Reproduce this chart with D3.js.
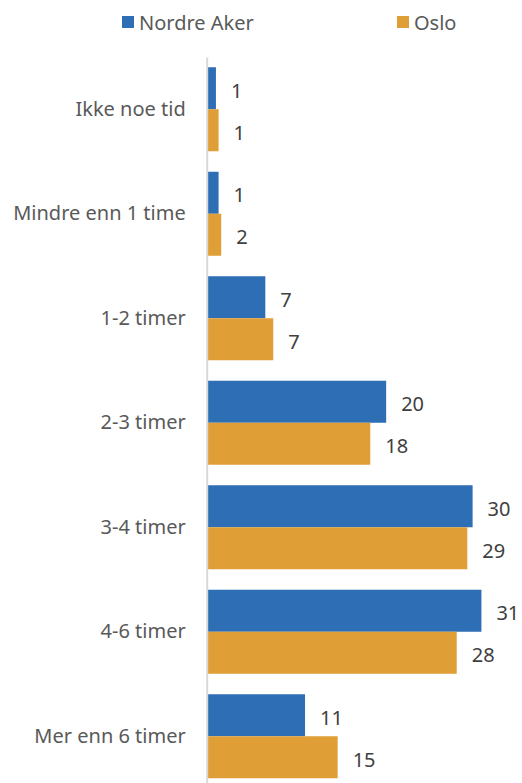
<!DOCTYPE html>
<html>
<head>
<meta charset="utf-8">
<script src="https://cdn.jsdelivr.net/npm/d3@7"></script>
<style>
  body { margin: 0; background: #fff; }
  svg { display: block; font-family: "Noto Sans", sans-serif; }
</style>
</head>
<body>
<main></main>
<script>
var categories = ["Ikke noe tid", "Mindre enn 1 time", "1-2 timer", "2-3 timer", "3-4 timer", "4-6 timer", "Mer enn 6 timer"]
var seriesNames = ["Nordre Aker", "Oslo"]
var nordreAker = [0.9, 1.2, 6.5, 20.2, 30.0, 31.0, 11.0]
var oslo = [1.2, 1.5, 7.4, 18.4, 29.4, 28.2, 14.7]
var colors = ["#2e6eb5", "#e09e36"]

var width = 522,
    height = 783

var svg = d3.select("main")
    .append("svg")
    .attr("width", width)
    .attr("height", height)

var x = d3.scaleLinear()
    .domain([0, 35])
    .range([208, 516.7])

var y = d3.scaleBand()
    .domain(categories)
    .range([57, 788.5])
    .paddingInner(0.196)
    .paddingOuter(0.098)

var ySub = d3.scaleBand()
    .domain(seriesNames)
    .range([0, y.bandwidth()])

var rows = categories.map(function(c, i){
    return {cat: c, values: [nordreAker[i], oslo[i]]}
})

// bars
var groups = svg.append("g")
    .selectAll("g").data(rows)
    .enter().append("g")
    .attr("transform", d => "translate(0," + y(d.cat) + ")")

groups.selectAll("rect")
    .data(d => d.values.map((v, j) => ({name: seriesNames[j], value: v, j: j})))
    .enter().append("rect")
    .attr("x", x(0))
    .attr("y", d => ySub(d.name))
    .attr("width", d => x(d.value) - x(0))
    .attr("height", ySub.bandwidth())
    .attr("fill", d => colors[d.j])

groups.selectAll("text")
    .data(d => d.values.map((v, j) => ({name: seriesNames[j], value: v})))
    .enter().append("text")
    .attr("x", d => x(d.value) + 15)
    .attr("y", d => ySub(d.name) + ySub.bandwidth() / 2 + 2)
    .attr("dominant-baseline", "central")
    .attr("fill", "#404040")
    .style("font-size", "20px")
    .text(d => Math.round(d.value))

// category axis
var yAxis = d3.axisLeft(y).tickSize(0).tickPadding(21)

var yGuide = svg.append("g")
    .attr("transform", "translate(206.7,0)")
    .call(yAxis)

yGuide.select(".domain")
    .attr("stroke", "#d9d9d9")
    .attr("stroke-width", 2)

yGuide.selectAll("text")
    .attr("fill", "#595959")
    .style("font-size", "20px")
    .style("font-family", "Noto Sans, sans-serif")

// legend
var legendX = [122, 397]
var legend = svg.append("g")
    .selectAll("g").data(seriesNames)
    .enter().append("g")
    .attr("transform", (d, i) => "translate(" + legendX[i] + ",16)")

legend.append("rect")
    .attr("width", 12)
    .attr("height", 12)
    .attr("fill", (d, i) => colors[i])

legend.append("text")
    .attr("x", 17)
    .attr("y", 6.5)
    .attr("dominant-baseline", "central")
    .attr("fill", "#595959")
    .style("font-size", "20px")
    .text(d => d)
</script>
</body>
</html>
